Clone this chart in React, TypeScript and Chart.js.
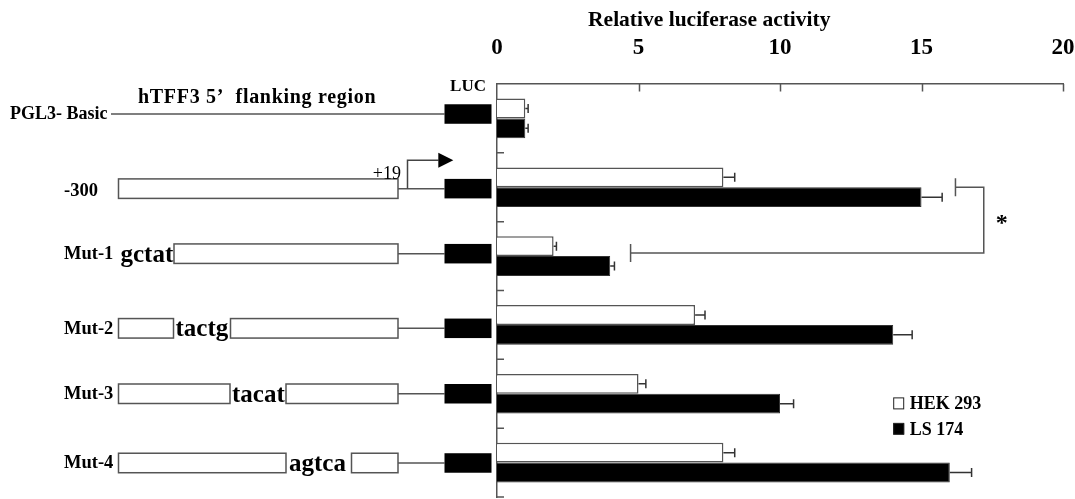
import React, { useEffect, useRef } from "react";
import { Chart, registerables } from "chart.js";

Chart.register(...registerables);

// ---------- data ----------
const categories = ["PGL3- Basic", "-300", "Mut-1", "Mut-2", "Mut-3", "Mut-4"];
const seriesNames = ["HEK 293", "LS 174"];
const hek293 = [1.0, 8.0, 2.0, 7.0, 5.0, 8.0];
const hek293Err = [0.1, 0.4, 0.1, 0.35, 0.26, 0.4];
const ls174 = [1.0, 15.0, 4.0, 14.0, 10.0, 16.0];
const ls174Err = [0.1, 0.73, 0.15, 0.67, 0.48, 0.77];
const xTickValues = [0, 5, 10, 15, 20];
const mutatedSites = ["", "", "gctat", "tactg", "tacat", "agtca"];
const axisTitle = "Relative luciferase activity";
const regionLabel = "hTFF3 5\u2019  flanking region";
const startSiteLabel = "+19";
const reporterLabel = "LUC";
const significanceMark = "*";
// bracket: compares LS 174 of "-300" (index 1) with "Mut-1" (index 2)
const bracketRows = [1, 2];
const bracketValues = [16.2, 4.72, 17.2]; // top cap, bottom cap, vertical line

// ---------- layout / style ----------
const SERIF = "'Liberation Serif', 'Times New Roman', Times, serif";
const AXIS = "#555";
const schematic = {
  basicNameX: 10,
  nameX: 64,
  basicLineStart: 111,
  promoterEnd: 398,
  lucLeft: 444.5,
  lucRight: 491.5,
  boxH: 19.5,
  rowShift: [-4.4, 1.4, -2.4, 3.4, 0, 0.4],
  rowBoxes: [
    [],
    [[118.5, 398]],
    [[174, 398]],
    [[118.5, 173.5], [230.5, 398]],
    [[118.5, 230], [286, 398]],
    [[118.5, 286], [351.5, 398]],
  ] as number[][][],
  siteTextX: [0, 0, 120.5, 175.5, 232, 289],
};

const decorPlugin = {
  id: "decor",
  afterDraw(chart: any) {
    const ctx: CanvasRenderingContext2D = chart.ctx;
    const xs = chart.scales.x;
    const ys = chart.scales.y;
    const ca = chart.chartArea;
    ctx.save();

    // inward ticks
    ctx.strokeStyle = AXIS;
    ctx.lineWidth = 1.5;
    ctx.beginPath();
    xTickValues.slice(1).forEach((v) => {
      const px = Math.round(xs.getPixelForValue(v)) + 0.5;
      ctx.moveTo(px, ca.top);
      ctx.lineTo(px, ca.top + 7.5);
    });
    for (let k = 0; k < categories.length; k++) {
      const py = ys.getPixelForValue(k + 0.5);
      ctx.moveTo(ca.left, py);
      ctx.lineTo(ca.left + 7, py);
    }
    ctx.stroke();

    // error bars
    const errs = [hek293Err, ls174Err];
    errs.forEach((err, di) => {
      const meta = chart.getDatasetMeta(di);
      const vals = chart.data.datasets[di].data as number[];
      meta.data.forEach((bar: any, i: number) => {
        const x0 = xs.getPixelForValue(vals[i]);
        const x1 = xs.getPixelForValue(vals[i] + err[i]);
        const yc = bar.y;
        ctx.strokeStyle = "#333";
        ctx.lineWidth = 1.5;
        ctx.beginPath();
        ctx.moveTo(x0, yc);
        ctx.lineTo(x1, yc);
        ctx.moveTo(x1, yc - 4.5);
        ctx.lineTo(x1, yc + 4.5);
        ctx.stroke();
      });
    });

    // significance bracket
    const yTop = ys.getPixelForValue(bracketRows[0]);
    const yBot = ys.getPixelForValue(bracketRows[1]) - 3;
    const xTopCap = xs.getPixelForValue(bracketValues[0]);
    const xBotCap = xs.getPixelForValue(bracketValues[1]);
    const xV = xs.getPixelForValue(bracketValues[2]);
    ctx.strokeStyle = "#555";
    ctx.lineWidth = 1.5;
    ctx.beginPath();
    ctx.moveTo(xTopCap, yTop - 9);
    ctx.lineTo(xTopCap, yTop + 9);
    ctx.moveTo(xTopCap, yTop);
    ctx.lineTo(xV, yTop);
    ctx.lineTo(xV, yBot);
    ctx.lineTo(xBotCap, yBot);
    ctx.moveTo(xBotCap, yBot - 9);
    ctx.lineTo(xBotCap, yBot + 9);
    ctx.stroke();
    ctx.fillStyle = "#000";
    ctx.font = `bold 24px ${SERIF}`;
    ctx.textAlign = "center";
    ctx.textBaseline = "alphabetic";
    ctx.fillText(significanceMark, xV + 18, (yTop + yBot) / 2 + 10);

    // axis title
    ctx.font = `bold 21.5px ${SERIF}`;
    ctx.textAlign = "center";
    ctx.textBaseline = "middle";
    ctx.fillText(axisTitle, xs.getPixelForValue(7.5), ca.top - 64);

    // legend
    const lx = xs.getPixelForValue(14);
    const legendRows = [ys.getPixelForValue(4.14), ys.getPixelForValue(4.51)];
    const legendFill = ["#fff", "#000"];
    ctx.font = `bold 18px ${SERIF}`;
    ctx.textAlign = "left";
    legendRows.forEach((ly, i) => {
      ctx.fillStyle = legendFill[i];
      ctx.fillRect(lx, ly - 5.5, 11, 11);
      ctx.strokeStyle = "#222";
      ctx.lineWidth = 1;
      ctx.strokeRect(lx + 0.5, ly - 5.5, 10, 11);
      ctx.fillStyle = "#000";
      ctx.fillText(seriesNames[i], lx + 16.5, ly + 1);
    });

    // schematic constructs
    const s = schematic;
    ctx.fillStyle = "#000";
    ctx.font = `bold 17px ${SERIF}`;
    ctx.textAlign = "center";
    ctx.textBaseline = "middle";
    ctx.fillText(reporterLabel, (s.lucLeft + s.lucRight) / 2, ca.top + 3);

    categories.forEach((name, i) => {
      const cy = ys.getPixelForValue(i) + s.rowShift[i];
      ctx.fillStyle = "#000";
      ctx.font = i === 0 ? `bold 18px ${SERIF}` : `bold 18.5px ${SERIF}`;
      ctx.textAlign = "left";
      ctx.textBaseline = "middle";
      ctx.fillText(name, i === 0 ? s.basicNameX : s.nameX, cy + (i === 1 ? 2.5 : 0.5));

      ctx.strokeStyle = "#555";
      ctx.lineWidth = 1.5;
      ctx.beginPath();
      ctx.moveTo(i === 0 ? s.basicLineStart : s.promoterEnd, cy);
      ctx.lineTo(s.lucLeft, cy);
      ctx.stroke();

      if (i === 0) {
        ctx.save();
        ctx.font = `bold 20px ${SERIF}`;
        (ctx as any).letterSpacing = "0.7px";
        ctx.textBaseline = "alphabetic";
        ctx.fillText(regionLabel, 138, cy - 11);
        ctx.restore();
      }

      s.rowBoxes[i].forEach(([a, b]) => {
        ctx.fillStyle = "#fff";
        ctx.fillRect(a, cy - s.boxH / 2, b - a, s.boxH);
        ctx.strokeStyle = "#555";
        ctx.lineWidth = 1.5;
        ctx.strokeRect(a, cy - s.boxH / 2, b - a, s.boxH);
      });

      if (mutatedSites[i]) {
        ctx.fillStyle = "#000";
        ctx.font = `bold 25px ${SERIF}`;
        ctx.textAlign = "left";
        ctx.textBaseline = "alphabetic";
        ctx.fillText(mutatedSites[i], s.siteTextX[i], cy + 8);
      }

      ctx.fillStyle = "#000";
      ctx.fillRect(s.lucLeft, cy - s.boxH / 2, s.lucRight - s.lucLeft, s.boxH);

      if (i === 1) {
        const ax = 407.5;
        const ay = cy - 28.4;
        ctx.strokeStyle = "#444";
        ctx.lineWidth = 1.5;
        ctx.beginPath();
        ctx.moveTo(ax, cy);
        ctx.lineTo(ax, ay);
        ctx.lineTo(438.5, ay);
        ctx.stroke();
        ctx.fillStyle = "#000";
        ctx.beginPath();
        ctx.moveTo(438.3, ay - 7.5);
        ctx.lineTo(453.3, ay);
        ctx.lineTo(438.3, ay + 7.5);
        ctx.closePath();
        ctx.fill();
        ctx.font = `18px ${SERIF}`;
        ctx.textAlign = "right";
        ctx.textBaseline = "middle";
        ctx.fillText(startSiteLabel, 401, cy - 14);
      }
    });

    ctx.restore();
  },
};

export default function App() {
  const ref = useRef<HTMLCanvasElement>(null);
  useEffect(() => {
    document.body.style.margin = "0";
    const canvas = ref.current!;
    const chart = new Chart(canvas, {
      type: "bar",
      data: {
        labels: categories,
        datasets: [
          {
            label: seriesNames[0],
            data: hek293,
            backgroundColor: "#ffffff",
            borderColor: "#555",
            borderWidth: 1.5,
            categoryPercentage: 0.576,
            barPercentage: 1,
          },
          {
            label: seriesNames[1],
            data: ls174,
            backgroundColor: "#000000",
            borderColor: "#333",
            borderWidth: 1,
            categoryPercentage: 0.576,
            barPercentage: 1,
          },
        ],
      },
      options: {
        indexAxis: "y",
        responsive: false,
        animation: false,
        devicePixelRatio: 1,
        layout: { padding: { left: 497, right: 12, top: 33.6, bottom: 2 } },
        scales: {
          x: {
            position: "top",
            min: 0,
            max: 20,
            afterBuildTicks: (scale: any) => {
              scale.ticks = xTickValues.map((v) => ({ value: v }));
            },
            afterFit: (scale: any) => {
              scale.height = 50.4;
              scale.paddingLeft = 0;
              scale.paddingRight = 0;
              scale.paddingTop = 0;
              scale.paddingBottom = 0;
            },
            ticks: {
              color: "#000",
              padding: 22,
              font: { family: SERIF, size: 23, weight: "bold" },
            },
            grid: { display: false, drawTicks: false },
            border: { display: true, color: AXIS, width: 1.5 },
          },
          y: {
            afterFit: (scale: any) => {
              scale.width = 0;
              scale.paddingTop = 0;
              scale.paddingBottom = 0;
            },
            ticks: { display: false },
            grid: { display: false, drawTicks: false },
            border: { display: true, color: AXIS, width: 1.5 },
          },
        },
        plugins: {
          legend: { display: false },
          tooltip: { enabled: false },
        },
      },
      plugins: [decorPlugin],
    } as any);
    return () => chart.destroy();
  }, []);
  return (
    <div style={{ width: 1075, height: 499 }}>
      <canvas ref={ref} width={1075} height={499} style={{ display: "block" }} />
    </div>
  );
}
